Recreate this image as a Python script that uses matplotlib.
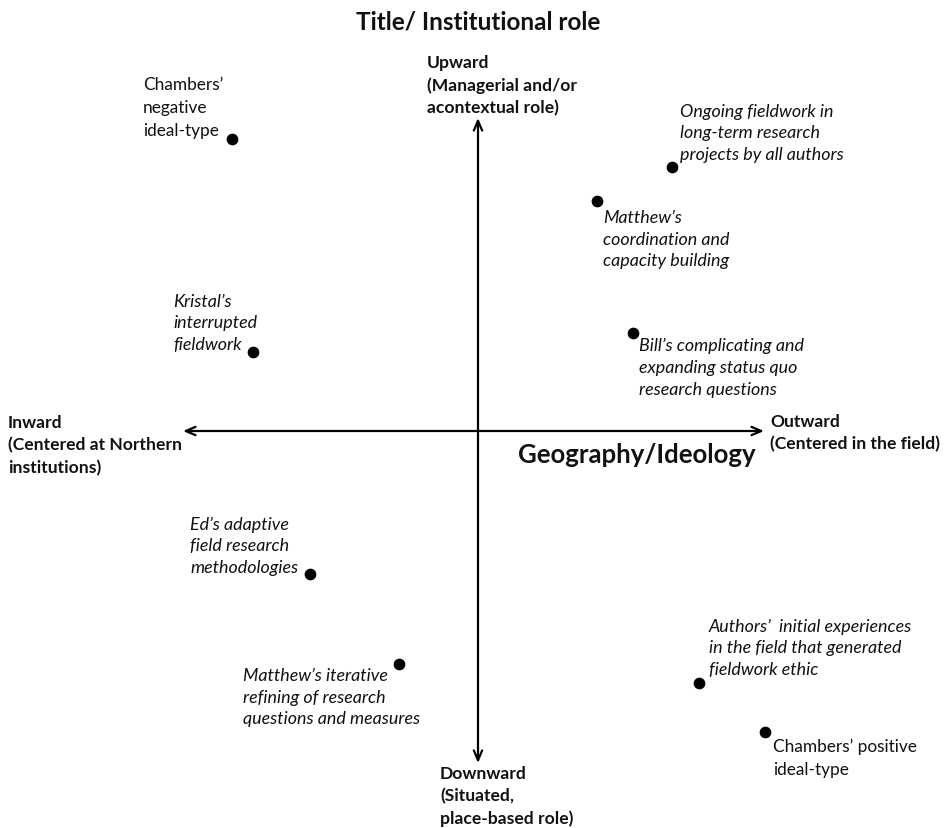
import matplotlib.pyplot as plt

plt.rcParams['font.family'] = ['Lato', 'DejaVu Sans']

# positions on the two dimensions (origin = where the arrows cross)
names = ["Chambers\u2019\nnegative\nideal-type",
         "Ongoing fieldwork in\nlong-term research\nprojects by all authors",
         "Matthew\u2019s\ncoordination and\ncapacity building",
         "Kristal\u2019s\ninterrupted\nfieldwork",
         "Bill\u2019s complicating and\nexpanding status quo\nresearch questions",
         "Ed\u2019s adaptive\nfield research\nmethodologies",
         "Matthew\u2019s iterative\nrefining of research\nquestions and measures",
         "Authors\u2019  initial experiences\nin the field that generated\nfieldwork ethic",
         "Chambers\u2019 positive\nideal-type"]
geography = [-2.46, 1.94, 1.19, -2.25, 1.55, -1.68, -0.79, 2.21, 2.87]
role = [2.92, 2.64, 2.30, 0.79, 0.98, -1.43, -2.33, -2.52, -3.01]
italic = [False, True, True, True, True, True, True, True, False]

# label placement: offset in pixels from the dot and alignment
offsets = [(-9, 1), (8, 5), (6, -8), (-80, 0), (6, -4), (-120, -1), (-156, -3), (10, 6), (8, -6)]
align = [("right", "bottom"), ("left", "bottom"), ("left", "top"), ("left", "bottom"),
         ("left", "top"), ("left", "bottom"), ("left", "top"), ("left", "bottom"), ("left", "top")]

fig = plt.figure(figsize=(9.45, 8.29), dpi=100)
ax = fig.add_axes([0, 0, 1, 1])
ax.set_xlim(-4.78, 4.67)
ax.set_ylim(-3.97, 4.32)
ax.axis('off')

arrow = dict(arrowstyle='<->,head_length=0.7,head_width=0.3', lw=1.6, color='black',
             shrinkA=0, shrinkB=0)
ax.annotate('', xy=(-2.95, 0), xytext=(2.86, 0), arrowprops=arrow)
ax.annotate('', xy=(0, 3.13), xytext=(0, -3.32), arrowprops=arrow)

ax.scatter(geography, role, s=55, color='black', zorder=3)

for name, gx, ry, it, off, (ha, va) in zip(names, geography, role, italic, offsets, align):
    ax.annotate(name, xy=(gx, ry), xytext=off, textcoords='offset pixels',
                ha=ha, va=va, multialignment='left',
                fontsize=12.9 if it else 12.4, style='italic' if it else 'normal',
                color='#111111', linespacing=1.44 if it else 1.53)

bold = dict(fontsize=12.6, fontweight='bold', color='#111111', linespacing=1.47)
ax.text(-0.51, 3.77, "Upward\n(Managerial and/or\nacontextual role)", ha='left', va='top', **bold)
ax.text(-0.38, -3.34, "Downward\n(Situated,\nplace-based role)", ha='left', va='top', **bold)
ax.text(-4.70, 0.17, "Inward\n(Centered at Northern\ninstitutions)", ha='left', va='top', **bold)
ax.text(2.92, 0.18, "Outward\n(Centered in the field)", ha='left', va='top', **bold)

ax.text(0, 4.10, "Title/ Institutional role", ha='center', va='center',
        fontsize=17.5, fontweight='bold', color='#111111')
ax.text(0.40, -0.23, "Geography/Ideology", ha='left', va='center',
        fontsize=18.5, fontweight='bold', color='#111111')

fig.savefig('out.png', dpi=100)
